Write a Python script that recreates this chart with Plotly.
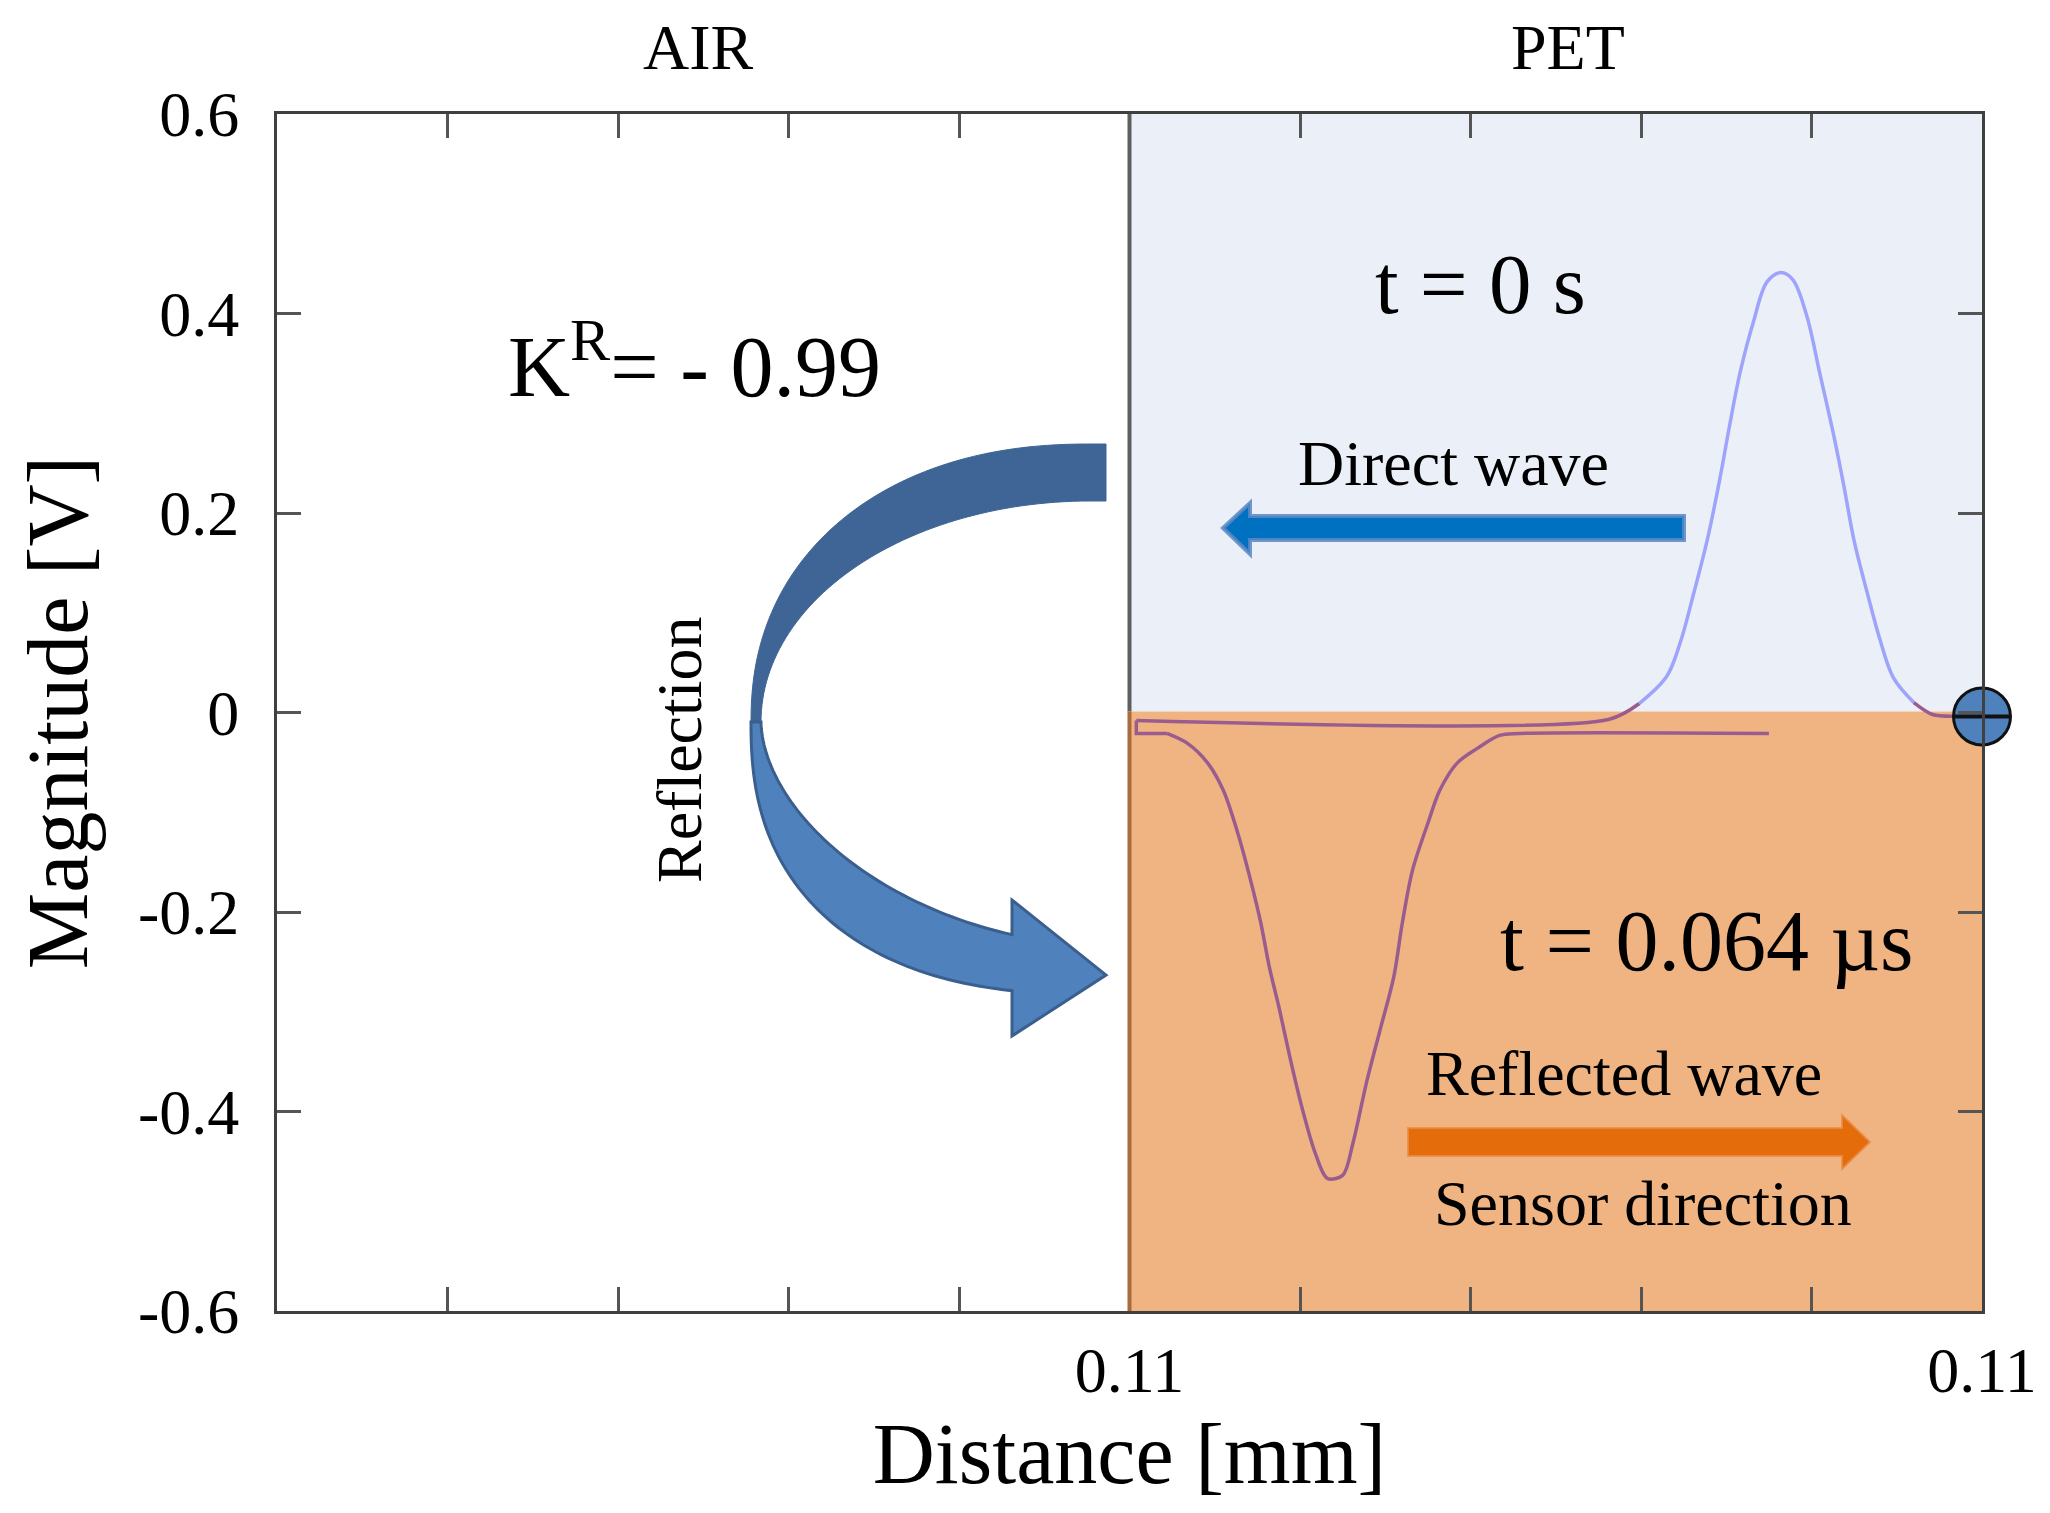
import math
import plotly.graph_objects as go

# ---------------- data ----------------
x_label_ticks = [5, 10]
x_ticklabels = ["0.11", "0.11"]
x_minor_step = 1
y_ticks = [-0.6, -0.4, -0.2, 0, 0.2, 0.4, 0.6]
y_ticklabels = ["-0.6", "-0.4", "-0.2", "0", "0.2", "0.4", "0.6"]

# wave at t = 0 s (direct wave, travelling in PET)
direct_x = [5.04, 7.81, 7.99, 8.15, 8.23, 8.31, 8.39, 8.46, 8.52, 8.58, 8.66, 8.74, 8.82,
            8.89, 8.97, 9.05, 9.13, 9.19, 9.25, 9.33, 9.40, 9.48, 9.60, 9.71, 9.85, 10.0]
direct_y = [-0.008, -0.007, 0.009, 0.036, 0.070, 0.120, 0.174, 0.232, 0.288, 0.340, 0.392, 0.432, 0.441,
            0.434, 0.399, 0.339, 0.278, 0.227, 0.172, 0.118, 0.074, 0.035, 0.010, -0.002, -0.004, -0.004]

# wave at t = 0.064 us (reflected wave)
reflected_x = [5.04, 5.04, 5.22, 5.34, 5.46, 5.55, 5.63, 5.71, 5.77, 5.82, 5.88, 5.94, 6.01, 6.09, 6.16,
               6.25, 6.31, 6.39, 6.47, 6.55, 6.60, 6.66, 6.75, 6.82, 6.92, 7.04, 7.17, 7.29, 8.75]
reflected_y = [-0.008, -0.021, -0.021, -0.031, -0.051, -0.078, -0.118, -0.168, -0.211, -0.255, -0.298,
               -0.345, -0.395, -0.442, -0.467, -0.464, -0.432, -0.371, -0.318, -0.265, -0.211, -0.158,
               -0.111, -0.078, -0.051, -0.036, -0.023, -0.021, -0.021]

sensor_x = [10.0]
sensor_y = [-0.004]

interface_x = 5
x_range = [0, 10]
y_range = [-0.6, 0.6]

# ---------------- layout geometry ----------------
OFF = 8                      # default page margin of the html body
W, H = 2050, 1513
L, R, T, B = 277, 1982, 114, 1311
FONT = "Liberation Serif, Times New Roman, serif"

BLUE = "#9EA3FB"
PURPLE = "#9A5C8E"


def P(x, y):
    return ((x - L) / (R - L), (B - y) / (B - T))


def path_from(points):
    parts = []
    for i, (x, y) in enumerate(points):
        px, py = P(x, y)
        parts.append(("M" if i == 0 else "L") + f"{px:.5f},{py:.5f}")
    return " ".join(parts) + " Z"


# curved "reflection" ribbon arrow (decorative)
cx, cy = 1090, 722


def se(t, rx, ry, n, sign):
    s = max(math.sin(t), 0.0)
    c = abs(math.cos(t))
    return (cx - rx * s ** (2.0 / n), cy + sign * ry * c ** (2.0 / n))


N = 60
up_outer = [se(i / N * math.pi / 2, 339, 278, 2.2, -1) for i in range(N + 1)]
up_inner = [se(i / N * math.pi / 2, 329, 221, 2.0, -1) for i in range(N + 1)]
upper_poly = [(1106, 444)] + up_outer + up_inner[::-1] + [(1106, 501)]

to_end = math.asin((78 / 339) ** (2.4 / 2))
ti_end = math.asin((78 / 329) ** (1.8 / 2))
lo_outer = [se(math.pi / 2 - (math.pi / 2 - to_end) * i / N, 339, 272, 2.4, 1) for i in range(N + 1)]
lo_inner = [se(math.pi / 2 - (math.pi / 2 - ti_end) * i / N, 329, 222, 1.8, 1) for i in range(N + 1)]
lower_poly = lo_outer + [(1012, 1036), (1106, 975), (1012, 900)] + lo_inner[::-1]

direct_arrow = [(1684, 516), (1250, 516), (1250, 503), (1223, 528), (1250, 554), (1250, 540), (1684, 540)]
orange_arrow = [(1408, 1128), (1842, 1128), (1842, 1115), (1870, 1142), (1842, 1169), (1842, 1156), (1408, 1156)]

fig = go.Figure()

# t = 0 wave: baseline parts lie under the orange region (appear purple)
fig.add_trace(go.Scatter(x=direct_x[:3], y=direct_y[:3], mode="lines",
                         line=dict(color=PURPLE, width=3.5, shape="spline", smoothing=0.8),
                         showlegend=False, hoverinfo="skip"))
fig.add_trace(go.Scatter(x=direct_x[2:23], y=direct_y[2:23], mode="lines",
                         line=dict(color=BLUE, width=3.5, shape="spline", smoothing=1.0),
                         showlegend=False))
fig.add_trace(go.Scatter(x=direct_x[22:], y=direct_y[22:], mode="lines",
                         line=dict(color=PURPLE, width=3.5, shape="spline", smoothing=0.8),
                         showlegend=False, hoverinfo="skip"))
# reflected wave
fig.add_trace(go.Scatter(x=reflected_x[:3], y=reflected_y[:3], mode="lines",
                         line=dict(color=PURPLE, width=3.5), showlegend=False, hoverinfo="skip"))
fig.add_trace(go.Scatter(x=reflected_x[2:], y=reflected_y[2:], mode="lines",
                         line=dict(color=PURPLE, width=3.5, shape="spline", smoothing=0.9),
                         showlegend=False))
# sensor marker
fig.add_trace(go.Scatter(x=sensor_x, y=sensor_y, mode="markers", cliponaxis=False,
                         marker=dict(symbol="circle", size=57, color="#4F81BD",
                                     line=dict(color="#111111", width=3)), showlegend=False))
fig.add_trace(go.Scatter(x=sensor_x, y=sensor_y, mode="markers", cliponaxis=False,
                         marker=dict(symbol="line-ew", size=40,
                                     line=dict(color="#111111", width=4)), showlegend=False))

shapes = [
    dict(type="rect", xref="x", yref="y", x0=interface_x, x1=x_range[1], y0=0.001, y1=y_range[1],
         fillcolor="#EBF0F8", line=dict(width=0), layer="below"),
    dict(type="rect", xref="x", yref="y", x0=interface_x, x1=x_range[1], y0=y_range[0], y1=0.001,
         fillcolor="#F0B482", line=dict(width=0), layer="below"),
    dict(type="line", xref="x", yref="y", x0=interface_x, x1=interface_x, y0=0.001, y1=y_range[1],
         line=dict(color="#5E5E5E", width=4)),
    dict(type="line", xref="x", yref="y", x0=interface_x, x1=interface_x, y0=y_range[0], y1=0.001,
         line=dict(color="#A86B3B", width=4)),
    dict(type="path", xref="paper", yref="paper", path=path_from(upper_poly),
         fillcolor="#3E6596", line=dict(color="#3E6596", width=1)),
    dict(type="path", xref="paper", yref="paper", path=path_from(lower_poly),
         fillcolor="#4F81BD", line=dict(color="#3A5F8E", width=3)),
    dict(type="path", xref="paper", yref="paper", path=path_from(direct_arrow),
         fillcolor="#0070C0", line=dict(color="rgba(90,135,195,0.85)", width=4)),
    dict(type="path", xref="paper", yref="paper", path=path_from(orange_arrow),
         fillcolor="#E46C0A", line=dict(color="rgba(235,140,70,0.8)", width=2)),
]


def ann(text, x, y, size, angle=0):
    px, py = P(x, y)
    return dict(text=text, x=px, y=py, xref="paper", yref="paper", showarrow=False,
                xanchor="center", yanchor="middle", textangle=angle,
                font=dict(family=FONT, size=size, color="black"))


annotations = [
    ann("AIR", 698, 48, 64),
    ann("PET", 1568, 48, 64),
    ann("K<sup>R</sup>= - 0.99", 694, 360, 86),
    ann("t = 0 s", 1480, 284, 85),
    ann("Direct wave", 1453, 463, 64),
    ann("t = 0.064 µs", 1706, 941, 86),
    ann("Reflected wave", 1624, 1073, 64),
    ann("Sensor direction", 1643, 1203, 64),
    ann("Reflection", 679, 750, 64, -90),
]

axis_common = dict(showgrid=False, zeroline=False, showline=True, linecolor="#404040", linewidth=3,
                   mirror="ticks", ticks="inside", ticklen=24, tickwidth=3, tickcolor="#555555",
                   tickfont=dict(family=FONT, size=64, color="black"), automargin=False)

fig.update_layout(
    width=W - OFF, height=H - OFF,
    margin=dict(l=L - OFF, r=W - R, t=T - OFF, b=H - B, pad=0),
    paper_bgcolor="white", plot_bgcolor="white",
    xaxis=dict(range=x_range, tickmode="array", tickvals=x_label_ticks, ticktext=x_ticklabels,
               ticklabelstandoff=1,
               minor=dict(ticks="inside", tick0=0, dtick=x_minor_step, ticklen=24, tickwidth=3,
                          tickcolor="#555555", showgrid=False),
               title=dict(text="Distance [mm]", font=dict(family=FONT, size=86, color="black"),
                          standoff=0),
               **axis_common),
    yaxis=dict(range=y_range, tickmode="array", tickvals=y_ticks, ticktext=y_ticklabels,
               ticklabelstandoff=22,
               title=dict(text="Magnitude [V]", font=dict(family=FONT, size=86, color="black"),
                          standoff=22),
               **axis_common),
    shapes=shapes,
    annotations=annotations,
    showlegend=False,
)

fig.write_html("out.html")
